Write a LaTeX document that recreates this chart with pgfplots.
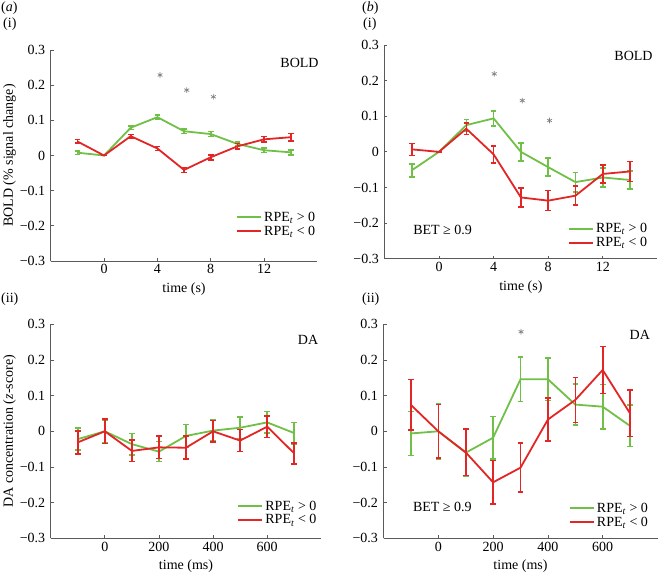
\documentclass[border=0pt]{standalone}
\usepackage{fontspec}
\setmainfont{Liberation Serif}
\usepackage{pgfplots}
\pgfplotsset{compat=1.18}
\definecolor{cgreen}{RGB}{112,192,72}
\definecolor{cred}{RGB}{226,37,37}
\definecolor{axgray}{RGB}{90,90,90}
\newcommand{\fs}{\fontsize{14}{16}\selectfont}
\pgfplotsset{
 base/.style={
  scale only axis,
  axis lines=left, axis line style={-, draw=axgray, line width=0.8pt},
  tick align=inside, major tick length=3pt, tick style={axgray, line width=0.8pt},
  ymin=-0.3, ymax=0.3,
  ytick={-0.3,-0.2,-0.1,0,0.1,0.2,0.3},
  yticklabels={−0.3,−0.2,−0.1,0,0.1,0.2,0.3},
  ticklabel style={font=\fs},
  yticklabel style={xshift=-2pt},
  label style={font=\fs},
  clip=false,
  legend style={draw=none, fill=none, font=\fs, inner sep=0pt, row sep=-1pt, cells={anchor=west}},
  legend image code/.code={\draw[##1] (0pt,0pt) -- (24pt,0pt);},
  x label style={at={(axis description cs:0.5,0)}, yshift=-28pt, anchor=center},
 },
 gline/.style={cgreen, line width=1.8pt, mark=none, forget plot,
   error bars/y dir=both, error bars/y explicit,
   error bars/error bar style={line width=1.6pt, cgreen},
   error bars/error mark options={rotate=90, mark size=2.8pt, line width=1.6pt, cgreen}},
 rline/.style={cred, line width=1.8pt, mark=none, forget plot,
   error bars/y dir=both, error bars/y explicit,
   error bars/error bar style={line width=1.6pt, cred},
   error bars/error mark options={rotate=90, mark size=2.8pt, line width=1.6pt, cred}},
 star/.style={only marks, mark=asterisk, mark size=2.8pt, gray, forget plot, mark options={line width=0.7pt}},
}
\begin{document}
\begin{tikzpicture}
\path[use as bounding box] (0pt,0pt) rectangle (660pt,576pt);
\node[anchor=north west, inner sep=0, font=\fs] at (1pt,574pt) {(\textit{a})};
\node[anchor=north west, inner sep=0, font=\fs] at (3pt,558pt) {(i)};
\node[anchor=north west, inner sep=0, font=\fs] at (362pt,574pt) {(\textit{b})};
\node[anchor=north west, inner sep=0, font=\fs] at (363pt,558pt) {(i)};
\node[anchor=north west, inner sep=0, font=\fs] at (1pt,283pt) {(ii)};
\node[anchor=north west, inner sep=0, font=\fs] at (362pt,283pt) {(ii)};

% (a)(i)
\begin{axis}[base, at={(50.7pt,315pt)}, anchor=south west, width=266.7pt, height=211pt,
  xmin=-4, xmax=16, xtick={0,4,8,12}, xticklabels={0,4,8,12},
  xlabel={time (s)}, ylabel={BOLD (\% signal change)},
  y label style={at={(axis description cs:-0.154,0.5)}, anchor=center, rotate=0},
  legend style={at={(rel axis cs:1,0.105)}, anchor=south east}]
\addlegendimage{cgreen, line width=2pt}
\addlegendentry{RPE\textsubscript{\textit{t}} > 0}
\addlegendimage{cred, line width=2pt}
\addlegendentry{RPE\textsubscript{\textit{t}} < 0}
\addplot[gline] table[x=x, y=y, y error=e, row sep=\\] {
x y e\\ -2 0.008 0.005\\ 0 0 0\\ 2 0.079 0.005\\ 4 0.109 0.006\\ 6 0.069 0.006\\ 8 0.061 0.007\\ 10 0.033 0.006\\ 12 0.015 0.007\\ 14 0.009 0.007\\
};
\addplot[rline] table[x=x, y=y, y error=e, row sep=\\] {
x y e\\ -2 0.040 0.005\\ 0 0 0\\ 2 0.055 0.005\\ 4 0.020 0.006\\ 6 -0.041 0.007\\ 8 -0.005 0.007\\ 10 0.026 0.008\\ 12 0.046 0.008\\ 14 0.052 0.010\\
};
\addplot[star] coordinates {(4.2,0.229) (6.2,0.186) (8.2,0.167)};
\node[anchor=east, inner sep=0, font=\fs] at (rel axis cs:1.005,0.938) {BOLD};
\end{axis}

% (b)(i)
\begin{axis}[base, at={(384.4pt,317.3pt)}, anchor=south west, width=273pt, height=213.7pt,
  xmin=-4, xmax=16, xtick={0,4,8,12}, xticklabels={0,4,8,12},
  xlabel={time (s)},
  legend style={at={(rel axis cs:0.97,0.04)}, anchor=south east}]
\addlegendimage{cgreen, line width=2pt}
\addlegendentry{RPE\textsubscript{\textit{t}} > 0}
\addlegendimage{cred, line width=2pt}
\addlegendentry{RPE\textsubscript{\textit{t}} < 0}
\addplot[gline] table[x=x, y=y, y error=e, row sep=\\] {
x y e\\ -2 -0.052 0.018\\ 0 0 0\\ 2 0.075 0.016\\ 4 0.094 0.021\\ 6 0.000 0.025\\ 8 -0.043 0.025\\ 10 -0.085 0.027\\ 12 -0.072 0.027\\ 14 -0.079 0.026\\
};
\addplot[rline] table[x=x, y=y, y error=e, row sep=\\] {
x y e\\ -2 0.007 0.017\\ 0 0 0\\ 2 0.065 0.016\\ 4 -0.007 0.024\\ 6 -0.128 0.027\\ 8 -0.137 0.028\\ 10 -0.123 0.027\\ 12 -0.062 0.025\\ 14 -0.055 0.028\\
};
\addplot[star] coordinates {(4.05,0.219) (6.1,0.144) (8.1,0.088)};
\node[anchor=east, inner sep=0, font=\fs] at (rel axis cs:0.983,0.948) {BOLD};
\node[anchor=west, inner sep=0, font=\fs] at (rel axis cs:0.105,0.134) {BET ≥ 0.9};
\end{axis}

% (a)(ii)
\begin{axis}[base, at={(50.7pt,37.7pt)}, anchor=south west, width=270.6pt, height=214pt,
  xmin=-200, xmax=800, xtick={0,200,400,600}, xticklabels={0,200,400,600},
  xlabel={time (ms)}, ylabel={DA concentration (\textit{z}-score)},
  y label style={at={(axis description cs:-0.152,0.5)}, anchor=center, rotate=0},
  legend style={at={(rel axis cs:0.99,0.05)}, anchor=south east}]
\addlegendimage{cgreen, line width=2pt}
\addlegendentry{RPE\textsubscript{\textit{t}} > 0}
\addlegendimage{cred, line width=2pt}
\addlegendentry{RPE\textsubscript{\textit{t}} < 0}
\addplot[gline] table[x=x, y=y, y error=e, row sep=\\] {
x y e\\ -100 -0.022 0.031\\ 0 0 0.032\\ 100 -0.036 0.030\\ 200 -0.057 0.028\\ 300 -0.013 0.032\\ 400 0.002 0.030\\ 500 0.010 0.030\\ 600 0.025 0.030\\ 700 -0.005 0.030\\
};
\addplot[rline] table[x=x, y=y, y error=e, row sep=\\] {
x y e\\ -100 -0.031 0.032\\ 0 0 0.034\\ 100 -0.055 0.030\\ 200 -0.045 0.031\\ 300 -0.046 0.032\\ 400 0.000 0.030\\ 500 -0.026 0.031\\ 600 0.013 0.030\\ 700 -0.062 0.030\\
};
\node[anchor=east, inner sep=0, font=\fs] at (rel axis cs:0.989,0.927) {DA};
\end{axis}

% (b)(ii)
\begin{axis}[base, at={(383.5pt,37.7pt)}, anchor=south west, width=274pt, height=214pt,
  xmin=-200, xmax=800, xtick={0,200,400,600}, xticklabels={0,200,400,600},
  xlabel={time (ms)},
  legend style={at={(rel axis cs:0.973,0.04)}, anchor=south east}]
\addlegendimage{cgreen, line width=2pt}
\addlegendentry{RPE\textsubscript{\textit{t}} > 0}
\addlegendimage{cred, line width=2pt}
\addlegendentry{RPE\textsubscript{\textit{t}} < 0}
\addplot[gline] table[x=x, y=y, y error=e, row sep=\\] {
x y e\\ -100 -0.006 0.062\\ 0 0 0.077\\ 100 -0.060 0.065\\ 200 -0.018 0.059\\ 300 0.146 0.062\\ 400 0.146 0.060\\ 500 0.075 0.057\\ 600 0.069 0.062\\ 700 0.015 0.058\\
};
\addplot[rline] table[x=x, y=y, y error=e, row sep=\\] {
x y e\\ -100 0.074 0.071\\ 0 0 0.075\\ 100 -0.059 0.065\\ 200 -0.143 0.061\\ 300 -0.102 0.069\\ 400 0.033 0.060\\ 500 0.088 0.063\\ 600 0.172 0.066\\ 700 0.050 0.065\\
};
\addplot[star] coordinates {(302,0.279)};
\node[anchor=east, inner sep=0, font=\fs] at (rel axis cs:0.973,0.95) {DA};
\node[anchor=west, inner sep=0, font=\fs] at (rel axis cs:0.107,0.148) {BET ≥ 0.9};
\end{axis}
\end{tikzpicture}
\end{document}
